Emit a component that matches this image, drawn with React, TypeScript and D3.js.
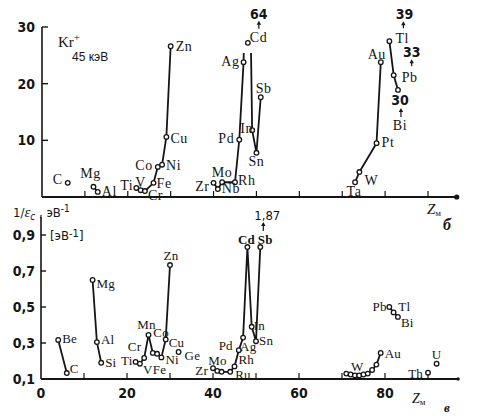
import { useEffect, useRef } from "react";
import * as d3 from "d3";

// panel б: sputtering yield, Kr+ 45 keV
const topElements = ["C", "Mg", "Al", "Ti", "V", "Cr", "Fe", "Co", "Ni", "Cu", "Zn", "Zr", "Nb", "Mo", "Rh", "Pd", "Ag", "Cd", "In", "Sn", "Sb", "Ta", "W", "Pt", "Au", "Tl", "Pb", "Bi"];
const topZ = [6, 12, 13, 22, 23, 24, 26, 27, 28, 29, 30, 40, 41, 42, 45, 46, 47, 48, 49, 50, 51, 73, 74, 78, 79, 81, 82, 83];
const topYield = [2.5, 1.8, 0.9, 1.6, 1.2, 1.05, 2.5, 5.3, 5.7, 10.6, 26.6, 2.5, 1.4, 2.6, 2.6, 10.1, 23.8, 64, 11.8, 7.8, 17.6, 2.6, 4.4, 9.5, 23.8, 27.5, 21.5, 18.9];
const topGroups = [
  ["C"],
  ["Mg", "Al"],
  ["Ti", "V", "Cr", "Fe", "Co", "Ni", "Cu", "Zn"],
  ["Zr", "Nb", "Mo", "Rh", "Pd", "Ag", "Cd", "In", "Sn", "Sb"],
  ["Ta", "W", "Pt", "Au"],
  ["Tl", "Pb", "Bi"],
];
// values written next to points that are off the scale
const topOffScale = ["Cd", "Tl", "Pb", "Bi"];
const topOffScaleText = ["64", "39", "33", "30"];
const cdMarkerAt = 27.2; // where the Cd circle is drawn
const topCut = 25.4; // lines to Cd are broken here

// panel в: 1/eps_c
const botElements = ["Be", "C", "Mg", "Al", "Si", "Ti", "V", "Cr", "Mn", "Fe", "Co", "Ni", "Cu", "Zn", "Ge", "Zr", "Nb", "Mo", "Ru", "Rh", "Pd", "Ag", "Cd", "In", "Sn", "Sb", "Lu", "Hf", "Ta", "W", "Re", "Os", "Ir", "Pt", "Au", "Tl", "Pb", "Bi", "Th", "U"];
const botZ = [4, 6, 12, 13, 14, 22, 23, 24, 25, 26, 27, 28, 29, 30, 32, 40, 41, 42, 44, 45, 46, 47, 48, 49, 50, 51, 71, 72, 73, 74, 75, 76, 77, 78, 79, 81, 82, 83, 90, 92];
const botValue = [0.317, 0.133, 0.65, 0.305, 0.19, 0.195, 0.185, 0.217, 0.345, 0.245, 0.24, 0.22, 0.32, 0.733, 0.25, 0.16, 0.145, 0.14, 0.14, 0.17, 0.26, 0.33, 0.833, 0.39, 0.31, 0.833, 0.13, 0.125, 0.12, 0.12, 0.125, 0.13, 0.15, 0.18, 0.245, 0.5, 0.47, 0.445, 0.135, 0.185];
const botGroups = [
  ["Be", "C"],
  ["Mg", "Al", "Si"],
  ["Ti", "V", "Cr", "Mn", "Fe", "Co", "Ni", "Cu", "Zn"],
  ["Ge"],
  ["Zr", "Nb", "Mo", "Ru", "Rh", "Pd", "Ag", "Cd", "In", "Sn", "Sb"],
  ["Lu", "Hf", "Ta", "W", "Re", "Os", "Ir", "Pt", "Au"],
  ["Tl", "Pb", "Bi"],
  ["Th"],
  ["U"],
];
const botOffScale = ["Sb"];
const botOffScaleText = ["1,87"];
const botLabelled = ["Be", "C", "Mg", "Al", "Si", "Ti", "V", "Cr", "Mn", "Fe", "Co", "Ni", "Cu", "Zn", "Ge", "Zr", "Mo", "Ru", "Rh", "Pd", "Ag", "Cd", "In", "Sn", "Sb", "W", "Au", "Tl", "Pb", "Bi", "Th", "U"];

const topTicksY = [10, 20, 30];
const botTicksY = [0.1, 0.3, 0.5, 0.7, 0.9];
const xTicks = [10, 20, 30, 40, 50, 60, 70, 80, 90];
const botTickLabels = [0, 20, 40, 60, 80];

// label placement: [dx, dy, anchor]
const topLabelPos: Record<string, [number, number, string]> = {
  C: [-5, 1, "end"], Mg: [-3, -9, "middle"], Al: [4, 4, "start"], Ti: [-3, 2, "end"],
  V: [0, -3, "middle"], Cr: [3, 9, "start"], Fe: [3, 5, "start"], Co: [-5, 3, "end"],
  Ni: [4, 5, "start"], Cu: [4, 6, "start"], Zn: [5, 5, "start"], Zr: [-4, 8, "end"],
  Nb: [4, 4, "start"], Mo: [0, -5, "middle"], Rh: [3, 3, "start"], Pd: [-5, 3, "end"],
  Ag: [-4, 4, "end"], Cd: [2, -1, "start"], In: [1, 3, "end"], Sn: [0, 13, "middle"],
  Sb: [3, -4, "middle"], Ta: [-1, 14, "middle"], W: [5, 13, "start"], Pt: [5, 4, "start"],
  Au: [-4, -3, "middle"], Tl: [6, 2, "start"], Pb: [8, 7, "start"], Bi: [2, 40, "middle"],
};
// [text dx, text dy, arrow dx, arrow from dy, arrow to dy]
const topOffPos: Record<string, number[]> = {
  Cd: [11, -24, 11, -14, -22],
  Tl: [15, -22, 14, -13, -20],
  Pb: [18, -18, 18, -9, -16],
  Bi: [2, 15, 3, 27, 18],
};
const botLabelPos: Record<string, [number, number, string]> = {
  Be: [4, 3, "start"], C: [3, 0, "start"], Mg: [4, 8, "start"], Al: [4, 2, "start"],
  Si: [4, 4, "start"], Ti: [-3, 3, "end"], V: [3, 10, "start"], Cr: [-3, -7, "end"],
  Mn: [-2, -6, "middle"], Fe: [0, 21, "start"], Co: [4, -17, "middle"], Ni: [4, 7, "start"],
  Cu: [3, 8, "start"], Zn: [1, -5, "middle"], Ge: [6, 8, "start"], Zr: [-5, 7, "end"],
  Mo: [-4, -7, "middle"], Ru: [5, 7, "start"], Rh: [4, -2, "start"], Pd: [-6, 0, "end"],
  Ag: [-3, 13, "start"], Cd: [-1, -3, "middle"], In: [2, 3, "start"], Sn: [3, 4, "start"],
  Sb: [5, -3, "middle"], W: [-2, -4, "middle"], Au: [4, 5, "start"], Tl: [9, 4, "start"],
  Pb: [-7, -1, "end"], Bi: [3, 10, "start"], Th: [-5, 5, "end"], U: [0, -5, "middle"],
};
const botOffPos: Record<string, number[]> = {
  Sb: [7, -27, 3, -16, -25],
};

const SERIF = "'Liberation Serif', 'DejaVu Serif', serif";
const SANS = "'Liberation Sans Narrow', 'DejaVu Sans Condensed', 'Liberation Sans', sans-serif";
const INK = "#151515";

export default function App() {
  const svgRef = useRef<SVGSVGElement>(null);

  useEffect(() => {
    document.body.style.margin = "0";
    const svg = d3.select(svgRef.current);
    svg.selectAll("*").remove();
    svg.append("rect").attr("width", 480).attr("height", 416).attr("fill", "#fff");

    const xTop = d3.scaleLinear().domain([0, 90]).range([42, 428]);
    const yTop = d3.scaleLinear().domain([0, 30]).range([197, 27]);
    const xBot = d3.scaleLinear().domain([0, 90]).range([41, 428]);
    const yBot = d3.scaleLinear().domain([0.1, 0.9]).range([379, 235]);

    svg
      .append("defs")
      .append("clipPath")
      .attr("id", "cdcut")
      .append("rect")
      .attr("x", 0)
      .attr("y", yTop(topCut))
      .attr("width", 480)
      .attr("height", 200);

    const arrowUp = (g: any, x: number, y0: number, y1: number) => {
      g.append("line")
        .attr("x1", x).attr("x2", x).attr("y1", y0).attr("y2", y1 + 3)
        .attr("stroke", INK).attr("stroke-width", 1.2);
      g.append("path")
        .attr("d", `M${x - 2.2},${y1 + 4}L${x},${y1}L${x + 2.2},${y1 + 4}Z`)
        .attr("fill", INK);
    };

    // ---------- axes: panel б ----------
    const ax = svg.append("g").attr("stroke", INK).attr("fill", "none");
    ax.append("line").attr("x1", xTop(0)).attr("x2", xTop(96.7)).attr("y1", yTop(0)).attr("y2", yTop(0)).attr("stroke-width", 1.8);
    ax.append("line").attr("x1", xTop(0)).attr("x2", xTop(0)).attr("y1", yTop(0)).attr("y2", yTop(30)).attr("stroke-width", 1.6);
    ax.selectAll(".tx").data(xTicks).enter().append("line")
      .attr("x1", (d) => xTop(d)).attr("x2", (d) => xTop(d))
      .attr("y1", yTop(0)).attr("y2", yTop(0) - 6).attr("stroke-width", 1.2);
    ax.selectAll(".ty").data(topTicksY).enter().append("line")
      .attr("x1", xTop(0)).attr("x2", xTop(0) + 6)
      .attr("y1", (d) => yTop(d)).attr("y2", (d) => yTop(d)).attr("stroke-width", 1.4);
    svg.append("circle").attr("cx", xTop(96.7)).attr("cy", yTop(0)).attr("r", 2.6).attr("fill", INK);

    svg.selectAll(".tyl").data(topTicksY).enter().append("text")
      .attr("x", 35).attr("y", (d) => yTop(d) + 5)
      .attr("text-anchor", "end").attr("font-family", SANS).attr("font-stretch", "condensed")
      .attr("font-weight", "bold").attr("font-size", 14).attr("fill", INK)
      .text((d) => String(d));

    // ---------- axes: panel в ----------
    const bx = svg.append("g").attr("stroke", INK).attr("fill", "none");
    bx.append("line").attr("x1", xBot(0)).attr("x2", xBot(97)).attr("y1", yBot(0.1)).attr("y2", yBot(0.1)).attr("stroke-width", 1.8);
    bx.append("line").attr("x1", xBot(0)).attr("x2", xBot(0)).attr("y1", yBot(0.1)).attr("y2", yBot(1.0)).attr("stroke-width", 1.6);
    bx.selectAll(".tx").data(xTicks).enter().append("line")
      .attr("x1", (d) => xBot(d)).attr("x2", (d) => xBot(d))
      .attr("y1", yBot(0.1)).attr("y2", yBot(0.1) - 6).attr("stroke-width", 1.2);
    bx.selectAll(".ty").data(botTicksY.slice(1)).enter().append("line")
      .attr("x1", xBot(0)).attr("x2", xBot(0) + 5)
      .attr("y1", (d) => yBot(d)).attr("y2", (d) => yBot(d)).attr("stroke-width", 1.4);
    svg.append("circle").attr("cx", xBot(97)).attr("cy", yBot(0.1)).attr("r", 1.7).attr("fill", INK);

    svg.selectAll(".byl").data(botTicksY).enter().append("text")
      .attr("x", 35).attr("y", (d) => yBot(d) + 5)
      .attr("text-anchor", "end").attr("font-family", SANS).attr("font-stretch", "condensed")
      .attr("font-weight", "bold").attr("font-size", 14).attr("fill", INK)
      .text((d) => d3.format(".1f")(d).replace(".", ","));
    svg.selectAll(".bxl").data(botTickLabels).enter().append("text")
      .attr("x", (d) => xBot(d)).attr("y", 398)
      .attr("text-anchor", "middle").attr("font-family", SANS).attr("font-stretch", "condensed")
      .attr("font-weight", "bold").attr("font-size", 14).attr("fill", INK)
      .text((d) => String(d));

    // ---------- series ----------
    const drawPanel = (
      names: string[], zs: number[], vals: number[], groups: string[][],
      x: d3.ScaleLinear<number, number>, y: d3.ScaleLinear<number, number>,
      labelled: string[], labelPos: Record<string, [number, number, string]>,
      markerY: (n: string) => number, isTop: boolean
    ) => {
      const idx = (n: string) => names.indexOf(n);
      const line = d3.line<string>().x((n) => x(zs[idx(n)])).y((n) => y(vals[idx(n)]));
      groups.filter((g) => g.length > 1).forEach((g) => {
        const p = svg.append("path").attr("d", line(g))
          .attr("fill", "none").attr("stroke", INK).attr("stroke-width", 1.8)
          .attr("stroke-linejoin", "round");
        if (isTop && g.includes("Cd")) p.attr("clip-path", "url(#cdcut)");
      });
      svg.append("g").selectAll("circle").data(names).enter().append("circle")
        .attr("cx", (n) => x(zs[idx(n)])).attr("cy", (n) => markerY(n))
        .attr("r", 2.3).attr("fill", "#fff").attr("stroke", INK).attr("stroke-width", 1.3);
      svg.append("g").selectAll("text").data(labelled).enter().append("text")
        .attr("x", (n) => x(zs[idx(n)]) + labelPos[n][0])
        .attr("y", (n) => markerY(n) + labelPos[n][1])
        .attr("text-anchor", (n) => labelPos[n][2])
        .attr("font-family", SERIF)
        .attr("font-size", isTop ? 14 : 13)
        .attr("letter-spacing", isTop ? 0.6 : 0.2)
        .attr("font-weight", (n) => (!isTop && (n === "Cd" || n === "Sb") ? "bold" : "normal"))
        .attr("fill", INK)
        .text((n) => n);
    };

    const topIdx = (n: string) => topElements.indexOf(n);
    const topMarkerY = (n: string) => yTop(n === "Cd" ? cdMarkerAt : topYield[topIdx(n)]);
    drawPanel(topElements, topZ, topYield, topGroups, xTop, yTop, topElements, topLabelPos, topMarkerY, true);

    const botIdx = (n: string) => botElements.indexOf(n);
    const botMarkerY = (n: string) => yBot(botValue[botIdx(n)]);
    drawPanel(botElements, botZ, botValue, botGroups, xBot, yBot, botLabelled, botLabelPos, botMarkerY, false);

    // off-scale values with arrows
    const ann = svg.append("g");
    topOffScale.forEach((n, i) => {
      const px = xTop(topZ[topIdx(n)]);
      const py = topMarkerY(n);
      const o = topOffPos[n];
      ann.append("text").attr("x", px + o[0]).attr("y", py + o[1])
        .attr("text-anchor", "middle").attr("font-family", SANS).attr("font-stretch", "condensed")
        .attr("font-weight", "bold").attr("font-size", 14).attr("fill", INK)
        .text(topOffScaleText[i]);
      arrowUp(ann, px + o[2], py + o[3], py + o[4]);
    });
    botOffScale.forEach((n, i) => {
      const px = xBot(botZ[botIdx(n)]);
      const py = botMarkerY(n);
      const o = botOffPos[n];
      ann.append("text").attr("x", px + o[0]).attr("y", py + o[1])
        .attr("text-anchor", "middle").attr("font-family", SANS).attr("font-stretch", "condensed")
        .attr("font-size", 13).attr("fill", INK)
        .text(botOffScaleText[i]);
      arrowUp(ann, px + o[2], py + o[3], py + o[4]);
    });

    // ---------- captions ----------
    const kr = svg.append("text").attr("x", 58).attr("y", 47)
      .attr("font-family", SERIF).attr("font-size", 15).attr("fill", INK);
    kr.append("tspan").text("Kr");
    kr.append("tspan").attr("dy", -6).attr("font-size", 11).text("+");
    svg.append("text").attr("x", 72).attr("y", 61)
      .attr("font-family", "'Liberation Sans', sans-serif").attr("font-size", 12).attr("fill", INK)
      .text("45 кэВ");

    const yl = svg.append("text").attr("x", 13).attr("y", 217)
      .attr("font-family", SANS).attr("font-size", 13).attr("fill", INK);
    yl.append("tspan").text("1/");
    yl.append("tspan").attr("font-family", SERIF).attr("font-style", "italic").attr("font-size", 15).text("ε");
    yl.append("tspan").attr("dy", 3).attr("font-size", 10).attr("font-style", "italic").text("c");
    yl.append("tspan").attr("dy", -3).text(" , эВ");
    yl.append("tspan").attr("dy", -5).attr("font-size", 10).text("-1");

    const ul = svg.append("text").attr("x", 50).attr("y", 240)
      .attr("font-family", SANS).attr("font-size", 13).attr("fill", INK);
    ul.append("tspan").text("[эВ");
    ul.append("tspan").attr("dy", -3).attr("font-size", 11).text("-1");
    ul.append("tspan").attr("dy", 3).text("]");

    const zTop = svg.append("text").attr("x", 427).attr("y", 214)
      .attr("font-family", SERIF).attr("font-style", "italic").attr("font-size", 15).attr("fill", INK);
    zTop.append("tspan").text("Z");
    zTop.append("tspan").attr("dy", 2).attr("font-size", 9).attr("font-style", "normal").text("м");
    svg.append("text").attr("x", 443).attr("y", 230)
      .attr("font-family", SERIF).attr("font-style", "italic").attr("font-weight", "bold")
      .attr("font-size", 16).attr("fill", INK).text("б");

    const zBot = svg.append("text").attr("x", 412).attr("y", 403)
      .attr("font-family", SERIF).attr("font-style", "italic").attr("font-size", 14).attr("fill", INK);
    zBot.append("tspan").text("Z");
    zBot.append("tspan").attr("dy", 2).attr("font-size", 9).attr("font-style", "normal").text("м");
    svg.append("text").attr("x", 444).attr("y", 412)
      .attr("font-family", SERIF).attr("font-style", "italic").attr("font-weight", "bold")
      .attr("font-size", 13).attr("fill", INK).text("в");
  }, []);

  return <svg ref={svgRef} width={480} height={416} style={{ display: "block" }} />;
}
